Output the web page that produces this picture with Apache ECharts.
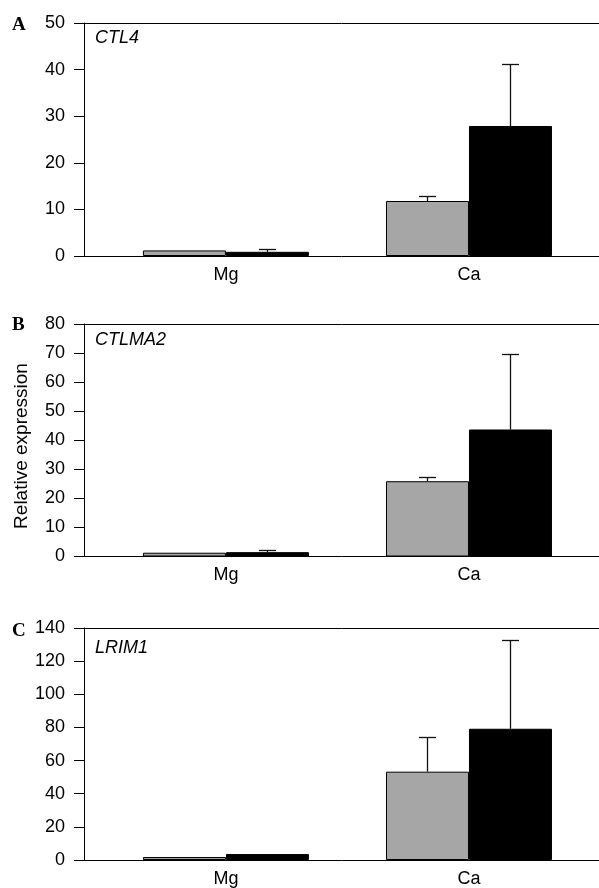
<!DOCTYPE html>
<html>
<head>
<meta charset="utf-8">
<script src="https://cdn.jsdelivr.net/npm/echarts@6/dist/echarts.min.js"></script>
<style>
html,body{margin:0;padding:0;background:#fff;}
#chart{width:599px;height:888px;}
</style>
</head>
<body>
<div id="chart"></div>
<script>
// ---- data ----
const categories = ['Mg', 'Ca'];
const panelLetters = ['A', 'B', 'C'];
const geneNames = ['CTL4', 'CTLMA2', 'LRIM1'];
const yMaxes = [50, 80, 140];
const yIntervals = [10, 10, 20];

const ctl4Gray = [1.2, 11.8];
const ctl4GrayErr = [0, 1.1];
const ctl4Black = [0.9, 27.9];
const ctl4BlackErr = [0.7, 13.3];

const ctlma2Gray = [1.3, 25.9];
const ctlma2GrayErr = [0, 1.4];
const ctlma2Black = [1.5, 43.7];
const ctlma2BlackErr = [0.8, 26.1];

const lrim1Gray = [1.8, 53.3];
const lrim1GrayErr = [0, 21.1];
const lrim1Black = [3.6, 79.2];
const lrim1BlackErr = [0, 53.3];

const yTitle = 'Relative expression';

// ---- layout / style ----
const FONT = 'Liberation Sans, Arial, Helvetica, sans-serif';
const GRAY = '#a6a6a6';
const BAR_W = 83;
const X_MIN = 0.416, X_MAX = 2.535;
const grids = [
  {left: 84, right: 0, top: 23, height: 233},
  {left: 84, right: 0, top: 324, height: 232.5},
  {left: 84, right: 0, top: 628, height: 234}
];
const panelData = [
  {gray: ctl4Gray, grayErr: ctl4GrayErr, black: ctl4Black, blackErr: ctl4BlackErr},
  {gray: ctlma2Gray, grayErr: ctlma2GrayErr, black: ctlma2Black, blackErr: ctlma2BlackErr},
  {gray: lrim1Gray, grayErr: lrim1GrayErr, black: lrim1Black, blackErr: lrim1BlackErr}
];

const xAxes = [], yAxes = [], series = [];
grids.forEach((g, i) => {
  xAxes.push({
    gridIndex: i, type: 'value', position: 'bottom', min: X_MIN, max: X_MAX,
    axisLine: {show: true, onZero: false, lineStyle: {color: '#000', width: 1}},
    axisTick: {show: false},
    splitLine: {show: false},
    axisLabel: {
      customValues: categories.map((c, j) => j + 1),
      formatter: v => categories[Math.round(v) - 1] || '',
      fontSize: 18, fontFamily: FONT, color: '#000', margin: 10
    }
  });
  xAxes.push({
    gridIndex: i, type: 'value', position: 'top', min: X_MIN, max: X_MAX,
    axisLine: {show: true, onZero: false, lineStyle: {color: '#000', width: 1}},
    axisTick: {show: false}, axisLabel: {show: false}, splitLine: {show: false}
  });
  yAxes.push({
    gridIndex: i, type: 'value', min: 0, max: yMaxes[i], interval: yIntervals[i],
    axisLine: {show: true, lineStyle: {color: '#000', width: 1}},
    axisTick: {show: true, length: 10, lineStyle: {color: '#000', width: 1}},
    splitLine: {show: false},
    axisLabel: {fontSize: 18, fontFamily: FONT, color: '#000', margin: 19}
  });
  const d = panelData[i];
  series.push({
    type: 'bar', xAxisIndex: 2 * i, yAxisIndex: i,
    barWidth: BAR_W, barGap: '0%',
    itemStyle: {color: GRAY, borderColor: '#000', borderWidth: 1},
    data: categories.map((c, j) => [j + 1, d.gray[j]]),
    silent: true, animation: false
  });
  series.push({
    type: 'bar', xAxisIndex: 2 * i, yAxisIndex: i,
    barWidth: BAR_W, barGap: '0%',
    itemStyle: {color: '#000', borderColor: '#000', borderWidth: 1},
    data: categories.map((c, j) => [j + 1, d.black[j]]),
    silent: true, animation: false
  });
  const errData = [];
  categories.forEach((c, j) => {
    errData.push([j + 1, d.gray[j], d.grayErr[j], -1]);
    errData.push([j + 1, d.black[j], d.blackErr[j], 1]);
  });
  series.push({
    type: 'custom', xAxisIndex: 2 * i, yAxisIndex: i, z: 10,
    silent: true, animation: false,
    data: errData,
    renderItem: (params, api) => {
      const x = api.value(0), v = api.value(1), e = api.value(2), s = api.value(3);
      if (!e) return null;
      const p0 = api.coord([x, v]);
      const p1 = api.coord([x, v + e]);
      const cx = Math.round(p0[0] + s * BAR_W / 2) + 0.5;
      const ty = Math.round(p1[1]) + 0.5;
      const lineStyle = {stroke: '#111', lineWidth: 1.3};
      return {
        type: 'group',
        children: [
          {type: 'line', shape: {x1: cx, y1: p0[1], x2: cx, y2: ty}, style: lineStyle},
          {type: 'line', shape: {x1: cx - 8.5, y1: ty, x2: cx + 8.5, y2: ty}, style: lineStyle}
        ]
      };
    }
  });
});

const letterY = [25, 325.5, 631.5];
const geneY = [37.5, 340, 648.3];
const graphic = [];
panelLetters.forEach((L, i) => {
  graphic.push({
    type: 'text', x: 12, y: letterY[i], silent: true,
    style: {text: L, font: 'bold 19px "Liberation Serif", "Times New Roman", serif', fill: '#000', verticalAlign: 'middle', align: 'left'}
  });
  graphic.push({
    type: 'text', x: 95, y: geneY[i], silent: true,
    style: {text: geneNames[i], font: 'italic 18px ' + FONT, fill: '#000', verticalAlign: 'middle', align: 'left'}
  });
});
graphic.push({
  type: 'text', x: 21.5, y: 446, rotation: Math.PI / 2, silent: true,
  style: {text: yTitle, font: '19px ' + FONT, fill: '#000', align: 'center', verticalAlign: 'middle'}
});

const chart = echarts.init(document.getElementById('chart'), null, {renderer: 'canvas'});
chart.setOption({
  backgroundColor: '#fff',
  animation: false,
  grid: grids,
  xAxis: xAxes,
  yAxis: yAxes,
  series: series,
  graphic: graphic
});
</script>
</body>
</html>
